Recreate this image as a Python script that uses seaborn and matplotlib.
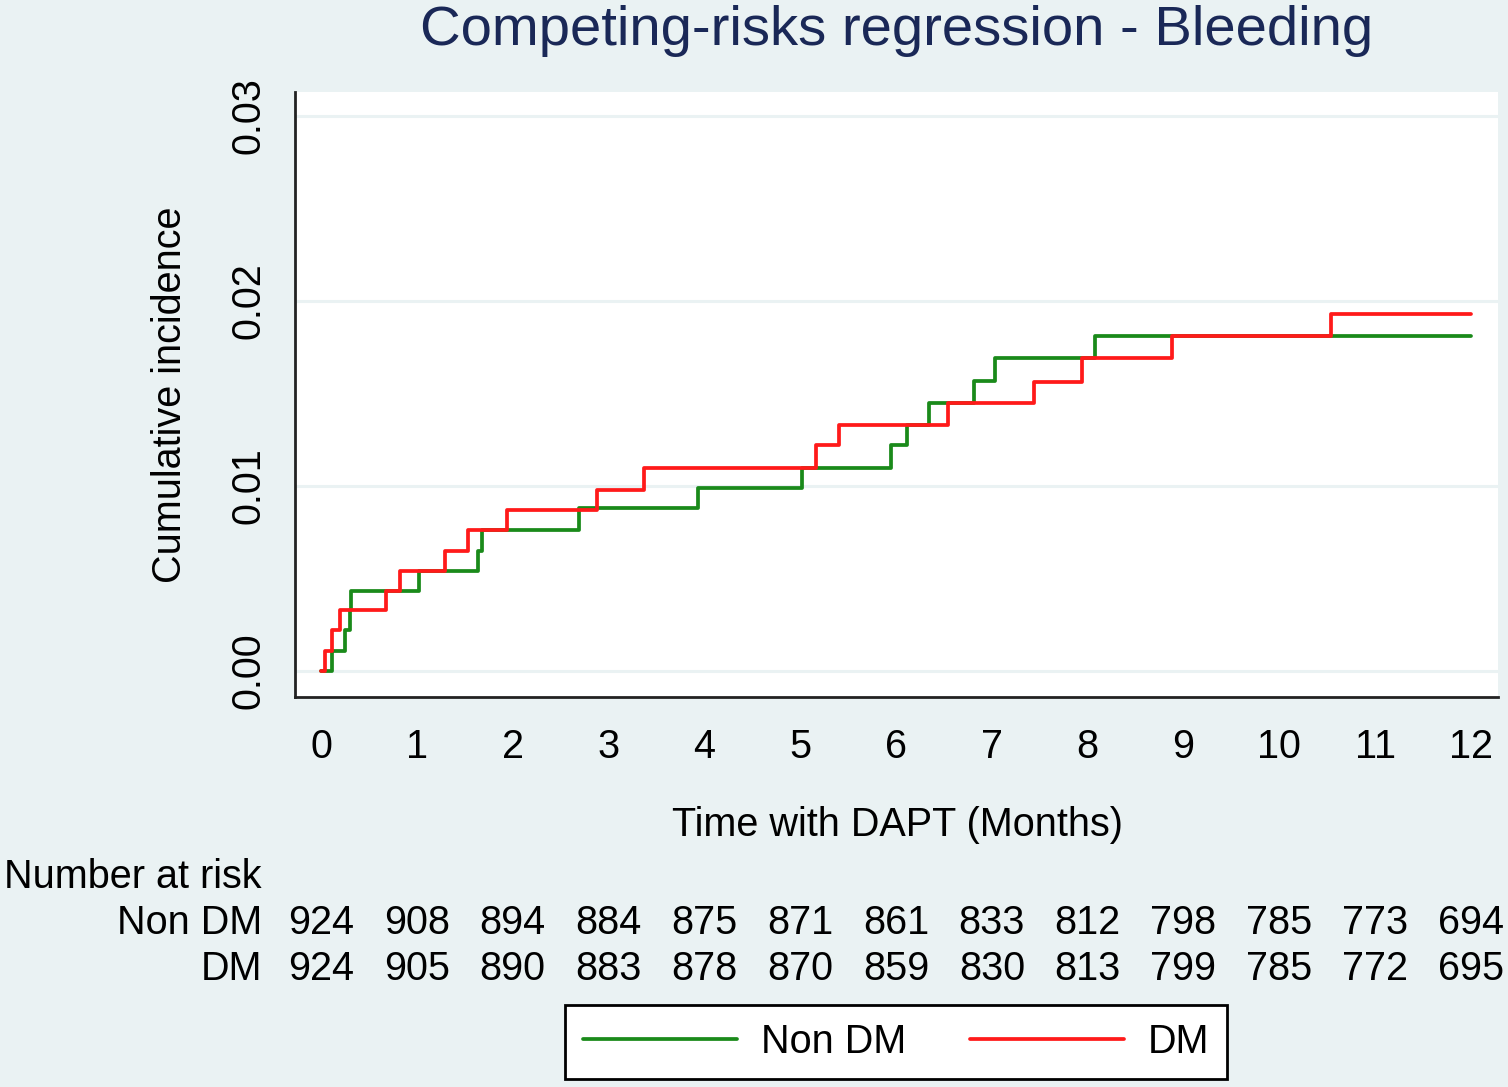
import matplotlib
matplotlib.use("Agg")
import matplotlib.pyplot as plt
import matplotlib.transforms as mtransforms
from matplotlib.lines import Line2D
import seaborn as sns
import pandas as pd

# ---- data ----
nondm_time = [0, 0.11, 0.25, 0.30, 0.31, 1.02, 1.64, 1.68, 2.69, 3.93, 5.02, 5.95,
              6.11, 6.34, 6.81, 7.03, 8.08, 12]
nondm_cuminc = [0, 0.0011, 0.0022, 0.0033, 0.0043, 0.0054, 0.0065, 0.0076, 0.0088,
                0.0099, 0.0110, 0.0122, 0.0133, 0.0145, 0.0157, 0.0169, 0.0181, 0.0181]
dm_time = [0, 0.04, 0.11, 0.20, 0.675, 0.82, 1.29, 1.53, 1.94, 2.88, 3.37, 5.16,
           5.41, 6.54, 7.44, 7.94, 8.88, 10.54, 12]
dm_cuminc = [0, 0.0011, 0.0022, 0.0033, 0.0043, 0.0054, 0.0065, 0.0076, 0.0087,
             0.0098, 0.0110, 0.0122, 0.0133, 0.0145, 0.0156, 0.0169, 0.0181, 0.0193, 0.0193]

groups = ["Non DM", "DM"]
colors = {"Non DM": "#1a8a1a", "DM": "#ff1a1a"}
x_ticks = list(range(0, 13))
y_ticks = [0.00, 0.01, 0.02, 0.03]
y_tick_labels = ["0.00", "0.01", "0.02", "0.03"]
risk_nondm = [924, 908, 894, 884, 875, 871, 861, 833, 812, 798, 785, 773, 694]
risk_dm = [924, 905, 890, 883, 878, 870, 859, 830, 813, 799, 785, 772, 695]

title = "Competing-risks regression - Bleeding"
xlabel = "Time with DAPT (Months)"
ylabel = "Cumulative incidence"

df = pd.concat([
    pd.DataFrame({"time": nondm_time, "cuminc": nondm_cuminc, "group": "Non DM"}),
    pd.DataFrame({"time": dm_time, "cuminc": dm_cuminc, "group": "DM"}),
], ignore_index=True)

# ---- styling ----
sns.set_style("white")
plt.rcParams["font.family"] = ["Liberation Sans", "DejaVu Sans"]
plt.rcParams["text.color"] = "black"
plt.rcParams["xtick.labelcolor"] = "black"
plt.rcParams["ytick.labelcolor"] = "black"
BG = "#eaf2f3"
FS = 28.5

W, H = 1508, 1087
fig = plt.figure(figsize=(W / 100, H / 100), dpi=100, facecolor=BG)
ax = fig.add_axes([295 / W, 1 - 697 / H, (1498 - 295) / W, (697 - 92) / H])
ax.set_facecolor("white")

sns.lineplot(data=df, x="time", y="cuminc", hue="group", hue_order=groups,
             palette=colors, drawstyle="steps-post", estimator=None,
             linewidth=2.7, legend=False, ax=ax, zorder=3)

x_per_px = 12 / (1471 - 321)
ax.set_xlim(0 - (321 - 295) * x_per_px, 12 + (1498 - 1471) * x_per_px)
y_per_px = 0.01 / 185
ax.set_ylim(0 - (697 - 671) * y_per_px, 0.03 + (116 - 92) * y_per_px)

ax.set_xticks(x_ticks)
ax.set_xticklabels([str(t) for t in x_ticks], fontsize=FS, color="black")
ax.set_yticks(y_ticks)
ax.set_yticklabels(y_tick_labels, fontsize=FS, rotation=90, va="center", color="black")
ax.tick_params(axis="x", direction="out", length=12, width=2, color="#333333", pad=10)
ax.tick_params(axis="y", direction="out", length=12, width=2, color="#666666", pad=8)
ax.set_xlabel("")
ax.set_ylabel("")

ax.grid(False)
for yv in y_ticks:
    ax.axhline(yv, color=BG, linewidth=2.2, zorder=1)

for s in ["top", "right"]:
    ax.spines[s].set_visible(False)
for s in ["left", "bottom"]:
    ax.spines[s].set_color("#222222")
    ax.spines[s].set_linewidth(2)

# ---- texts ----
fig.text(897 / W, 1 - 31 / H, title, fontsize=40.5, color="#1a2857",
         ha="center", va="center")
fig.text(897 / W, 1 - 825 / H, xlabel, fontsize=FS, color="black",
         ha="center", va="center")
fig.text(170 / W, 1 - 395 / H, ylabel, fontsize=FS, color="black",
         ha="center", va="center", rotation=90)

# number at risk table
trans = mtransforms.blended_transform_factory(ax.transData, fig.transFigure)
fig.text(4 / W, 1 - 877 / H, "Number at risk", fontsize=FS, ha="left", va="center")
fig.text(262 / W, 1 - 923 / H, "Non DM", fontsize=FS, ha="right", va="center")
fig.text(262 / W, 1 - 969 / H, "DM", fontsize=FS, ha="right", va="center")
for t, n1, n2 in zip(x_ticks, risk_nondm, risk_dm):
    fig.text(t, 1 - 923 / H, str(n1), fontsize=FS, ha="center", va="center",
             transform=trans)
    fig.text(t, 1 - 969 / H, str(n2), fontsize=FS, ha="center", va="center",
             transform=trans)

# legend
handles = [Line2D([0], [0], color=colors[g], linewidth=2.7) for g in groups]
leg = fig.legend(handles, groups, loc="center", ncol=2,
                 bbox_to_anchor=(896 / W, 1 - 1042 / H), fontsize=FS,
                 handlelength=3.9, handletextpad=0.6, columnspacing=1.6,
                 borderpad=0.45, frameon=True, fancybox=False, framealpha=1)
leg.get_frame().set_edgecolor("black")
leg.get_frame().set_linewidth(2)
leg.get_frame().set_facecolor("white")

fig.savefig("out.png", dpi=100, facecolor=BG)
